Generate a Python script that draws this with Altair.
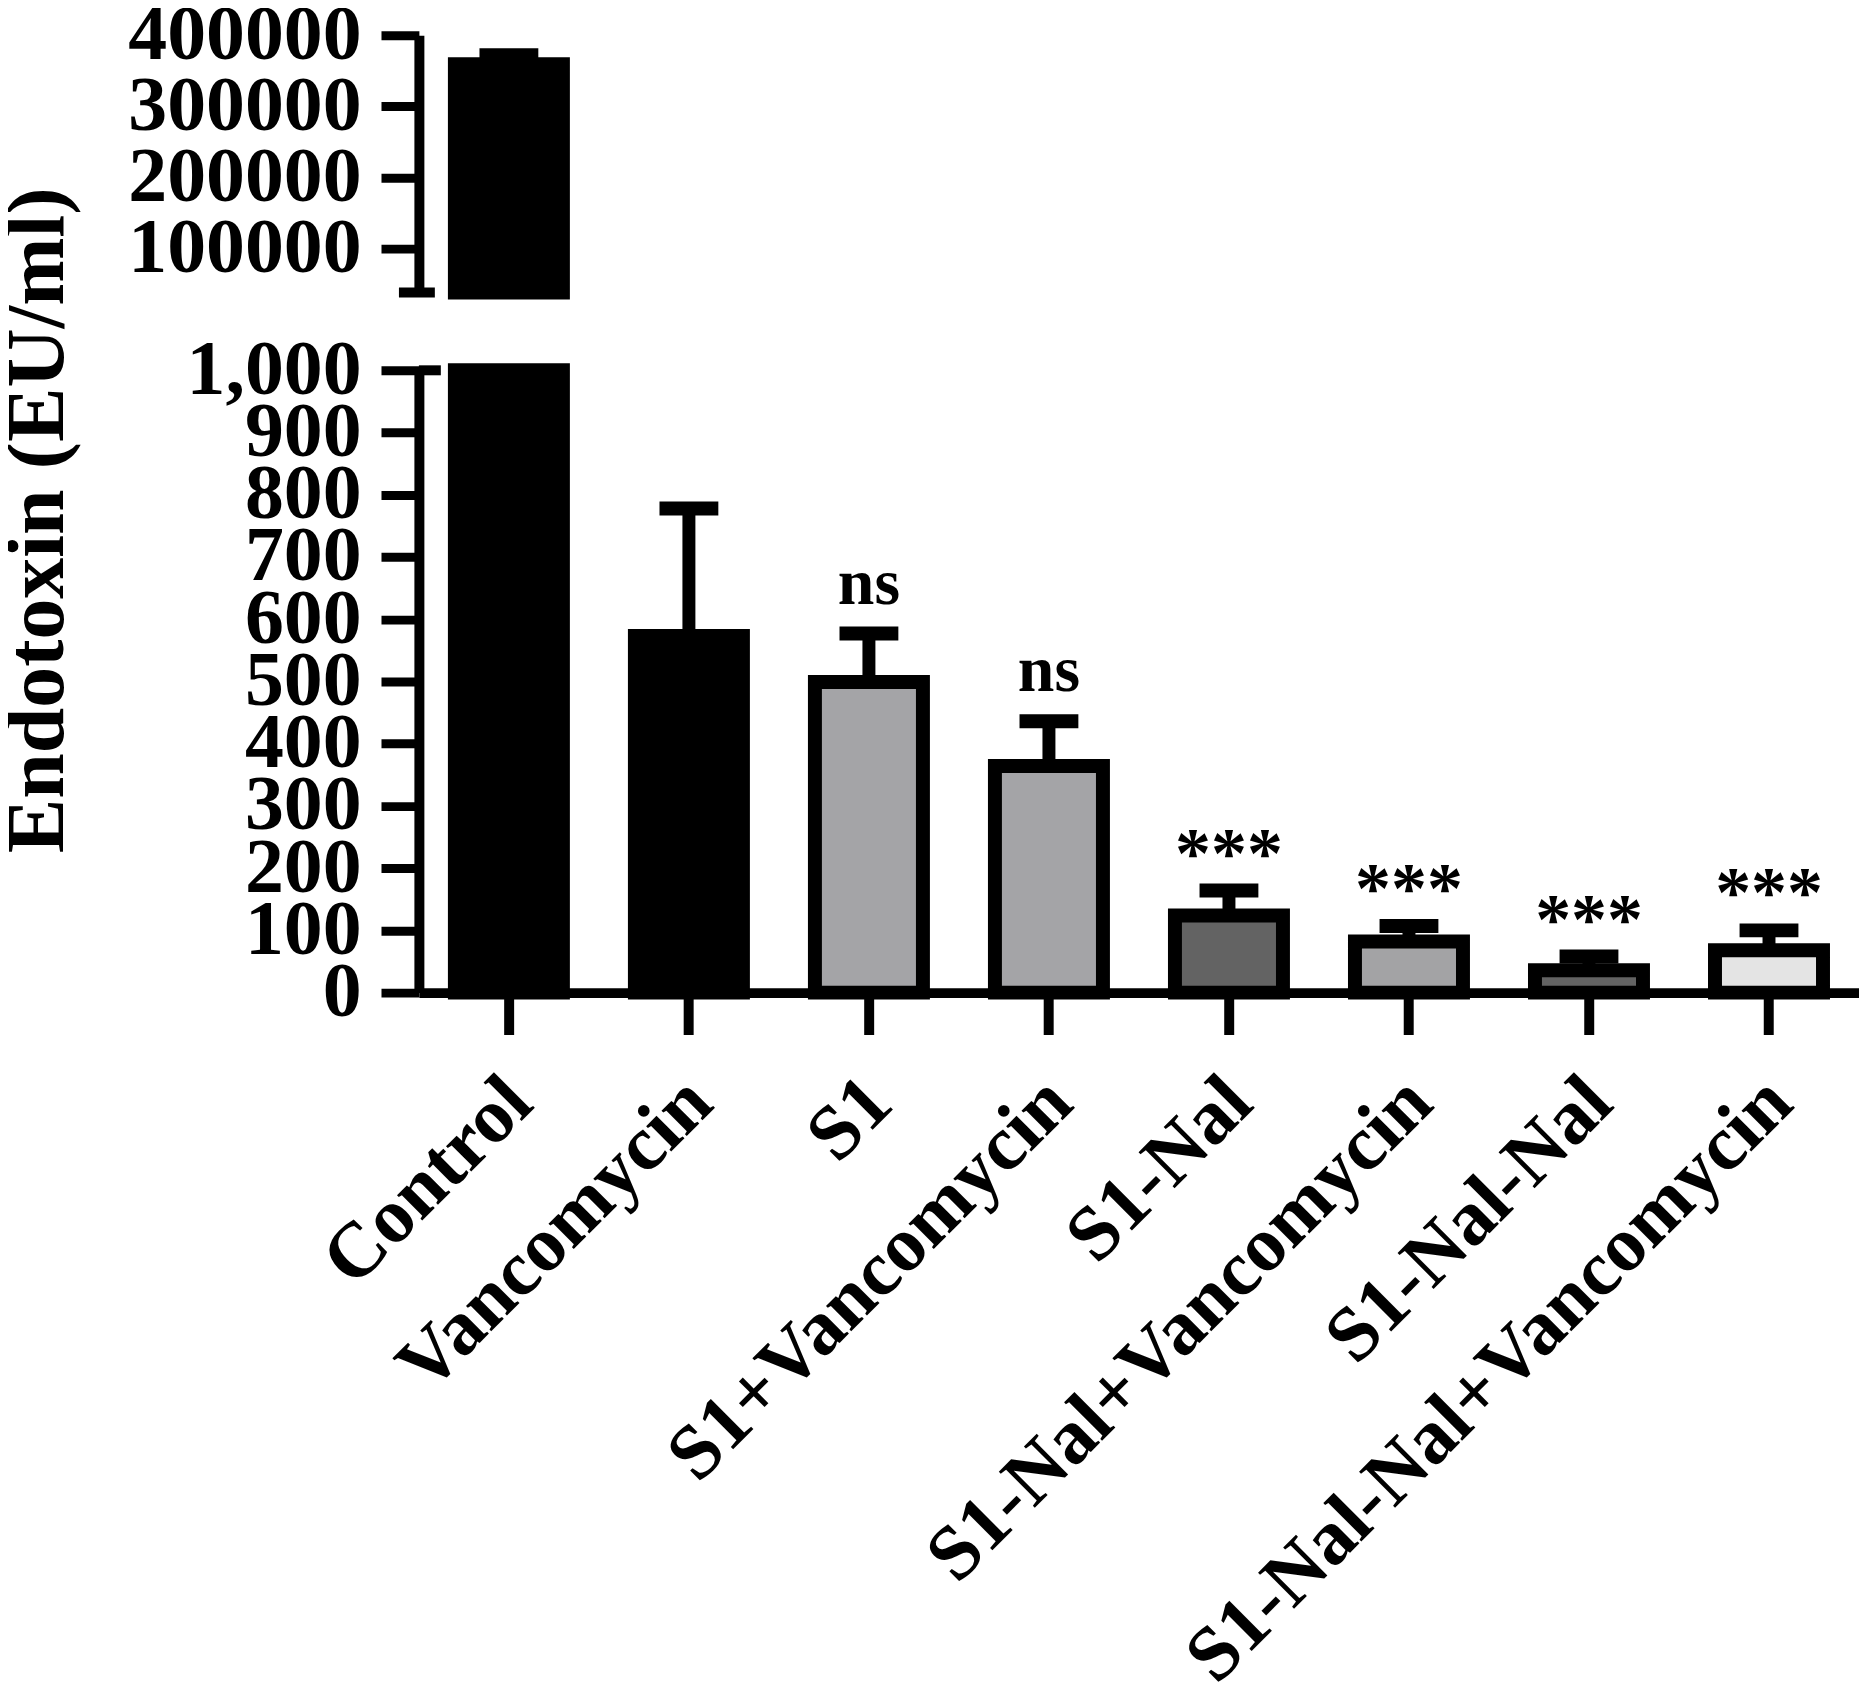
import altair as alt
import pandas as pd

groups = ["Control", "Vancomycin", "S1", "S1+Vancomycin", "S1-Nal",
          "S1-Nal+Vancomycin", "S1-Nal-Nal", "S1-Nal-Nal+Vancomycin"]
means = [359000, 573, 499, 364, 124, 82, 36, 68]
errors = [13000, 205, 78, 72, 40, 25, 22, 32]
fills = ["#000000", "#000000", "#a4a4a7", "#a4a4a7", "#636363",
         "#a3a3a5", "#636363", "#e4e4e4"]
sig = ["", "", "ns", "ns", "***", "***", "***", "***"]
upper_ticks = [100000, 200000, 300000, 400000]
lower_ticks = [0, 100, 200, 300, 400, 500, 600, 700, 800, 900, 1000]
upper_domain = [38000, 400000]
lower_domain = [0, 1000]

df = pd.DataFrame({"group": groups, "mean": means, "err": errors, "sig": sig})
df["upper"] = df["mean"] + df["err"]

FONT = "Liberation Serif"
W = 1444

xscale = alt.Scale(domain=groups, paddingInner=0.4, paddingOuter=0.2)
color = alt.Color("group:N", scale=alt.Scale(domain=groups, range=fills), legend=None)

axis_common = dict(
    labelFont=FONT, labelFontSize=78, labelFontWeight="bold", labelColor="black",
    domainColor="black", domainWidth=10, tickColor="black", tickWidth=9,
    tickSize=38, labelPadding=20, grid=False, labelOverlap=False, labelFlush=False,
    labelLimit=0,
)

# ---------- upper panel (broken axis, top part) ----------
x_up = alt.X("group:N", sort=groups, scale=xscale, axis=None)
up_base = alt.Chart(df).transform_filter(alt.datum.mean >= upper_domain[0])
y_up_scale = alt.Scale(domain=upper_domain, nice=False, zero=False)
up_bar = up_base.mark_bar(stroke="black", strokeWidth=14).encode(
    x=x_up,
    y=alt.Y("mean:Q", scale=y_up_scale,
            axis=alt.Axis(values=upper_ticks, format="d", title=None, **axis_common)),
    y2=alt.datum(upper_domain[0]),
    color=color,
)
up_err = up_base.mark_rule(strokeWidth=13, color="black").encode(
    x=x_up, y="mean:Q", y2="upper:Q")
up_cap = up_base.mark_tick(thickness=14, size=59, color="black", opacity=1).encode(
    x=x_up, y="upper:Q")
up_break = alt.Chart(df.head(1)).mark_rule(strokeWidth=10, color="black").encode(
    y=alt.datum(upper_domain[0]), x=alt.value(-20), x2=alt.value(16))
upper = alt.layer(up_bar, up_err, up_cap, up_break).properties(width=W, height=258)

# ---------- lower panel ----------
x_lo = alt.X("group:N", sort=groups, scale=xscale, axis=alt.Axis(
    title=None, labelAngle=-45, labelAlign="right", labelBaseline="alphabetic",
    labelFont=FONT, labelFontSize=78, labelFontWeight="bold", labelColor="black",
    domainColor="black", domainWidth=10, tickColor="black", tickWidth=10, tickSize=42,
    labelPadding=72, labelOffset=27, labelLimit=0))
lo_base = alt.Chart(df).transform_calculate(
    shown=f"min(datum.mean, {lower_domain[1]})")
y_lo_scale = alt.Scale(domain=lower_domain, nice=False)
lo_bar = lo_base.mark_bar(stroke="black", strokeWidth=14).encode(
    x=x_lo,
    y=alt.Y("shown:Q", scale=y_lo_scale, axis=alt.Axis(
        values=lower_ticks, format=",.0f", title="Endotoxin (EU/ml)",
        titleFont=FONT, titleFontSize=82, titleFontWeight="bold", titleColor="black",
        titleAngle=-90, titleX=-340, titleY=150, titleAlign="center",
        titleBaseline="bottom", **axis_common)),
    color=color,
)
lo_small = alt.Chart(df).transform_filter(alt.datum.upper <= lower_domain[1])
lo_err = lo_small.mark_rule(strokeWidth=13, color="black").encode(
    x=x_lo, y="mean:Q", y2="upper:Q")
lo_cap = lo_small.mark_tick(thickness=14, size=59, color="black", opacity=1).encode(
    x=x_lo, y="upper:Q")
lo_ns = lo_small.transform_filter(alt.datum.sig == "ns").mark_text(
    font=FONT, fontSize=66, fontWeight="bold", color="black",
    baseline="middle", dy=-50).encode(x=x_lo, y="upper:Q", text="sig:N")
lo_star = lo_small.transform_filter(alt.datum.sig == "***").mark_text(
    font=FONT, fontSize=72, fontWeight="bold", color="black",
    baseline="middle", dy=-36).encode(x=x_lo, y="upper:Q", text="sig:N")
lo_break = alt.Chart(df.head(1)).mark_rule(strokeWidth=10, color="black").encode(
    y=alt.datum(lower_domain[1]), x=alt.value(0), x2=alt.value(22))
lower = alt.layer(lo_bar, lo_err, lo_cap, lo_ns, lo_star, lo_break).properties(
    width=W, height=624)

chart = alt.vconcat(upper, lower, spacing=78, bounds="flush").configure_view(
    stroke=None).properties(
    padding={"left": -12, "right": 0, "top": -14, "bottom": 0}, background="white")

chart.save("out.html", embed_options={"renderer": "svg", "actions": False})
